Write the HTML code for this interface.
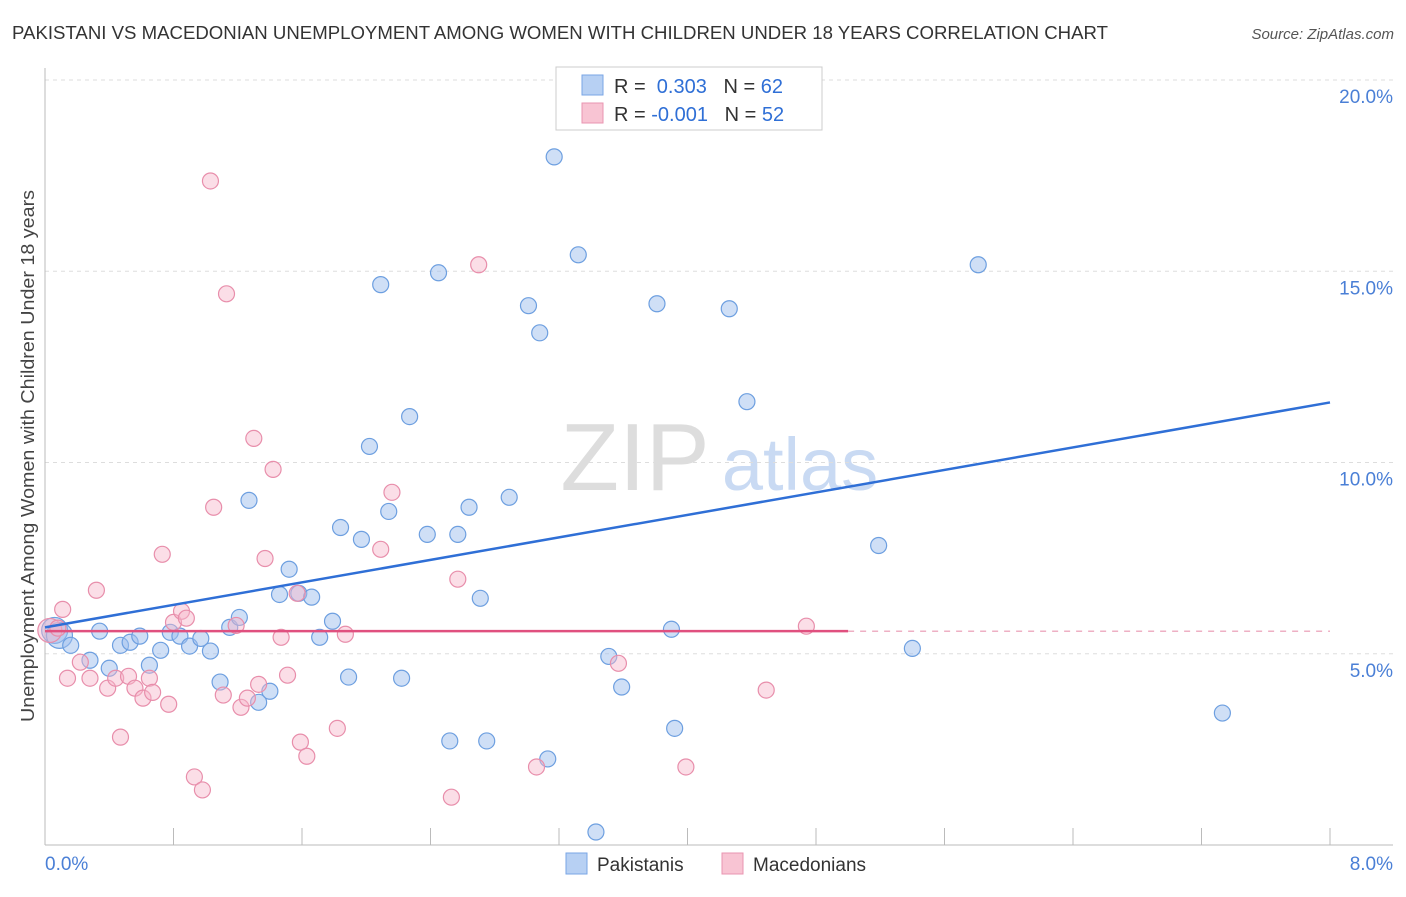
<!DOCTYPE html>
<html><head><meta charset="utf-8"><style>
body{margin:0;background:#fff;font-family:"Liberation Sans",sans-serif}
svg text{font-family:"Liberation Sans",sans-serif}
</style></head><body>
<svg id="c" width="1406" height="892">
<text x="12" y="39" font-size="18.5" fill="#333" textLength="1096" lengthAdjust="spacingAndGlyphs">PAKISTANI VS MACEDONIAN UNEMPLOYMENT AMONG WOMEN WITH CHILDREN UNDER 18 YEARS CORRELATION CHART</text>
<text x="1394" y="39" font-size="15" fill="#555" font-style="italic" text-anchor="end">Source: ZipAtlas.com</text>
<text transform="translate(34,456) rotate(-90)" font-size="18.5" fill="#444" text-anchor="middle" textLength="532" lengthAdjust="spacingAndGlyphs">Unemployment Among Women with Children Under 18 years</text>
<g><text x="635" y="490" font-size="96" fill="#ddd" font-family="Liberation Serif" text-anchor="middle">ZIP</text><text x="800" y="490" font-size="74" fill="#c9daf3" text-anchor="middle">atlas</text></g>
<g id="grid"></g><g id="marks"></g>
<g>
<rect x="556" y="67" width="266" height="63" fill="#fff" stroke="#ccc"/>
<rect x="582" y="75" width="21" height="20" fill="#b7d0f3" stroke="#7aa6e6"/>
<rect x="582" y="103" width="21" height="20" fill="#f8c4d3" stroke="#e995b0"/>
<text x="614" y="93" font-size="20" fill="#333">R = <tspan fill="#2f6fd6">&#160;0.303</tspan>&#160;&#160;&#160;N = <tspan fill="#2f6fd6">62</tspan></text>
<text x="614" y="121" font-size="20" fill="#333">R = <tspan fill="#2f6fd6">-0.001</tspan>&#160;&#160;&#160;N = <tspan fill="#2f6fd6">52</tspan></text>
</g>
<g>
<rect x="566" y="853" width="21" height="21" fill="#b7d0f3" stroke="#7aa6e6"/><text x="597" y="871" font-size="19" fill="#333">Pakistanis</text>
<rect x="722" y="853" width="21" height="21" fill="#f8c4d3" stroke="#e995b0"/><text x="753" y="871" font-size="19" fill="#333">Macedonians</text>
</g>
</svg>
<script>
const blueX=[0.06,0.09,0.16,0.28,0.34,0.40,0.47,0.53,0.59,0.65,0.72,0.78,0.84,0.90,0.97,1.03,1.09,1.15,1.21,1.27,1.33,1.40,1.46,1.52,1.58,1.66,1.71,1.79,1.84,1.89,1.97,2.02,2.09,2.14,2.22,2.27,2.38,2.45,2.52,2.57,2.64,2.71,2.75,2.89,3.01,3.08,3.13,3.17,3.32,3.43,3.51,3.59,3.81,3.90,3.92,4.26,4.37,5.19,5.40,5.81,7.33];
const blueY=[5.61,5.48,5.22,4.83,5.59,4.62,5.22,5.30,5.46,4.70,5.09,5.56,5.46,5.20,5.40,5.07,4.26,5.69,5.95,9.01,3.73,4.02,6.55,7.21,6.58,6.48,5.43,5.85,8.30,4.39,7.99,10.42,14.65,8.72,4.36,11.20,8.12,14.96,2.72,8.12,8.83,6.45,2.72,9.09,14.10,13.39,2.25,17.99,15.43,0.34,4.93,4.13,14.15,5.64,3.05,14.02,11.59,7.83,5.14,15.17,3.45];
const pinkX=[0.03,0.08,0.11,0.14,0.22,0.28,0.32,0.39,0.44,0.47,0.52,0.56,0.61,0.65,0.67,0.73,0.77,0.80,0.85,0.88,0.93,0.98,1.03,1.05,1.11,1.13,1.19,1.22,1.26,1.30,1.33,1.37,1.42,1.47,1.51,1.57,1.59,1.63,1.82,1.87,2.09,2.16,2.53,2.57,2.70,3.06,3.57,3.99,4.49,4.74];
const pinkY=[5.61,5.67,6.16,4.36,4.78,4.36,6.66,4.10,4.36,2.82,4.41,4.10,3.84,4.36,3.99,7.60,3.68,5.82,6.11,5.93,1.78,1.44,17.36,8.83,3.92,14.41,5.74,3.60,3.84,10.63,4.20,7.49,9.82,5.43,4.44,6.58,2.69,2.32,3.05,5.51,7.73,9.22,1.25,6.95,15.17,2.04,4.75,2.04,4.05,5.72];
const blueFit=[5.69,11.57];
const pinkFit=[5.59,5.59];
const pinkFitEnd=5.0;
const yTicks=[5,10,15,20];
const X=v=>45+v/8*1285, Y=v=>845-v/20*765;
const ns="http://www.w3.org/2000/svg";
function mk(t,a,p){const e=document.createElementNS(ns,t);for(const k in a)e.setAttribute(k,a[k]);p.appendChild(e);return e;}
const g=document.getElementById('grid'),m=document.getElementById('marks');
mk('line',{x1:45,y1:80,x2:1393,y2:80,stroke:'#ddd','stroke-dasharray':'4,4'},g);
yTicks.forEach(t=>{const l=mk('line',{x1:45,y1:Y(t),x2:1393,y2:Y(t),stroke:'#ddd','stroke-dasharray':'4,4'},g);


const tx=mk('text',{x:1393,y:Y(t)+23,'font-size':19,fill:'#4a7fd6','text-anchor':'end'},g);tx.textContent=t.toFixed(1)+'%';

});
mk('line',{x1:45,y1:68,x2:45,y2:845,stroke:'#bbb'},g);
mk('line',{x1:45,y1:845,x2:1393,y2:845,stroke:'#bbb'},g);
for(let i=1;i<=10;i++){mk('line',{x1:X(i*0.8),y1:828,x2:X(i*0.8),y2:845,stroke:'#bbb'},g);}
[[0,'0.0%','start',45],[8,'8.0%','end',1393]].forEach(d=>{const t=mk('text',{x:d[3],y:870,'font-size':19,fill:'#4a7fd6','text-anchor':d[2]},g);t.textContent=d[1];

});
blueX.forEach((x,i)=>{const c=mk('circle',{cx:X(x),cy:Y(blueY[i]),r:i<2?13:8,fill:'rgba(160,192,238,0.5)',stroke:'#6d9fe0','stroke-width':1.2},m);

});
pinkX.forEach((x,i)=>{const c=mk('circle',{cx:X(x),cy:Y(pinkY[i]),r:i<1?12:8,fill:'rgba(246,182,202,0.45)',stroke:'#e88eab','stroke-width':1.2},m);

});
const bl=mk('line',{x1:X(0),y1:Y(blueFit[0]),x2:X(8),y2:Y(blueFit[1]),stroke:'#2f6fd6','stroke-width':2.5},m);


const pl=mk('line',{x1:X(0),y1:Y(pinkFit[0]),x2:X(pinkFitEnd),y2:Y(pinkFit[0]+(pinkFit[1]-pinkFit[0])*pinkFitEnd/8),stroke:'#e0507f','stroke-width':2.5},m);


const pd=mk('line',{x1:X(pinkFitEnd),y1:Y(pinkFit[0]),x2:X(8),y2:Y(pinkFit[1]),stroke:'#e995b0','stroke-width':1.2,'stroke-dasharray':'6,6'},m);


</script>
</body></html>
